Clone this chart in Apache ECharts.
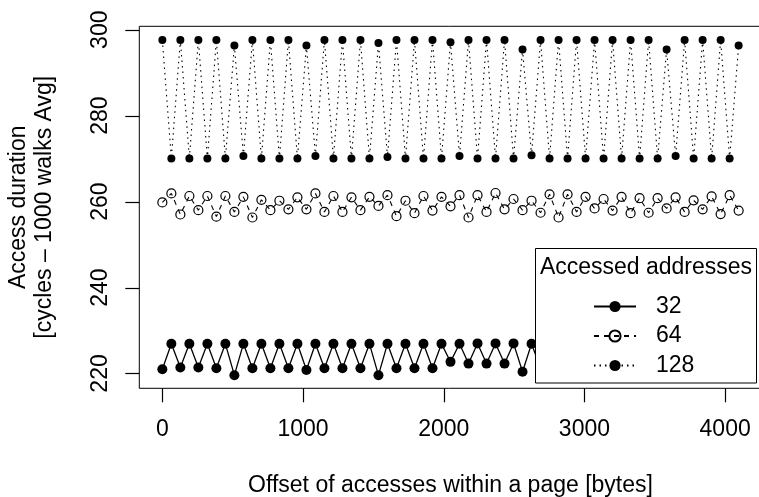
<!DOCTYPE html>
<html>
<head>
<meta charset="utf-8">
<script src="https://cdn.jsdelivr.net/npm/echarts@6/dist/echarts.min.js"></script>
<style>html,body{margin:0;padding:0;background:#fff}#show{width:759px;height:497px}</style>
</head>
<body>
<div id="show"></div>
<script>
// offsets within a page, in bytes
var offsets = [0, 64, 128, 192, 256, 320, 384, 448, 512, 576, 640, 704, 768, 832, 896, 960,
    1024, 1088, 1152, 1216, 1280, 1344, 1408, 1472, 1536, 1600, 1664, 1728, 1792, 1856, 1920, 1984,
    2048, 2112, 2176, 2240, 2304, 2368, 2432, 2496, 2560, 2624, 2688, 2752, 2816, 2880, 2944, 3008,
    3072, 3136, 3200, 3264, 3328, 3392, 3456, 3520, 3584, 3648, 3712, 3776, 3840, 3904, 3968, 4032, 4096];

var dur32 = [221.0, 226.9, 221.4, 226.9, 221.4, 226.9, 221.2, 226.9, 219.6, 226.9, 221.2, 226.9, 221.2, 226.9, 221.2, 226.9,
    220.8, 226.9, 221.2, 226.9, 221.2, 226.9, 221.2, 226.9, 219.6, 226.9, 221.2, 226.9, 221.2, 226.9, 221.2, 226.9,
    222.7, 226.9, 222.3, 227.0, 222.3, 227.0, 222.3, 227.0, 220.4, 226.9, 221.2, 226.9, 221.2, 226.9, 221.2, 226.9,
    220.4, 226.9, 221.2, 226.9, 221.2, 226.9, 221.2, 226.9, 219.8, 226.9, 221.2, 226.9, 221.2, 226.9, 221.2, 226.9, 221.2];

var dur64 = [259.8, 261.9, 257.0, 261.3, 258.0, 261.3, 256.5, 261.3, 257.6, 261.1, 256.3, 260.4, 258.0, 260.2, 258.2, 261.0,
    258.2, 261.9, 257.6, 261.3, 257.6, 261.0, 258.0, 261.1, 259.0, 261.5, 256.6, 260.2, 257.3, 261.3, 257.9, 261.1,
    258.9, 261.5, 256.3, 261.5, 257.6, 262.0, 258.2, 260.6, 258.0, 260.2, 257.4, 261.7, 256.3, 261.7, 257.6, 261.1,
    258.4, 260.6, 257.9, 261.1, 257.3, 260.8, 257.4, 260.8, 258.4, 261.0, 257.6, 260.3, 258.2, 261.2, 257.1, 261.5, 257.9];

var dur128 = [297.6, 270.0, 297.6, 270.0, 297.6, 270.0, 297.6, 270.0, 296.3, 270.6, 297.6, 270.0, 297.6, 270.0, 297.6, 270.0,
    296.3, 270.6, 297.6, 270.0, 297.6, 270.0, 297.6, 270.0, 296.9, 270.4, 297.6, 270.0, 297.6, 270.0, 297.6, 270.0,
    297.1, 270.6, 297.6, 270.0, 297.6, 270.0, 297.6, 270.0, 295.4, 270.8, 297.6, 270.0, 297.6, 270.0, 297.6, 270.0,
    297.6, 270.0, 297.6, 270.0, 297.6, 270.0, 297.6, 270.0, 295.4, 270.6, 297.6, 270.0, 297.6, 270.0, 297.6, 270.0, 296.3];

var seriesNames = ['32', '64', '128'];
var xTicks = [0, 1000, 2000, 3000, 4000];
var yTicks = [220, 240, 260, 280, 300];
var legendTitle = 'Accessed addresses';

// axis ranges (R style 4% padding around the data)
var xMin = -163.84, xMax = 4259.84;
var yMin = 216.55, yMax = 300.79;
var tickLen = 14;

function pairs(vals) {
    return offsets.map(function (x, i) { return [x, vals[i]]; });
}

var font = '"Liberation Sans", Arial, Helvetica, sans-serif';
var myChart = echarts.init(document.getElementById('show'));

var legendBox = [
    {
        type: 'rect', z: 15,
        shape: { x: 535.5, y: 248.5, width: 221, height: 134.5 },
        style: { fill: '#fff', stroke: '#000', lineWidth: 1 }
    },
    {
        type: 'text', z: 16, x: 646, y: 268,
        style: { text: legendTitle, font: '23px ' + font, fill: '#000', align: 'center', verticalAlign: 'middle' }
    }
];

myChart.setOption({
    animation: false,
    textStyle: { fontFamily: font, color: '#000' },
    grid: {
        left: 139.3, right: -2.7, top: 26.3, bottom: 108.7,
        containLabel: false, outerBoundsMode: 'none',
        show: true, borderColor: '#000', borderWidth: 1
    },
    xAxis: {
        type: 'value', min: xMin, max: xMax, position: 'bottom',
        splitLine: { show: false },
        axisLine: { show: false, onZero: false },
        axisTick: { show: false },
        axisLabel: {
            customValues: xTicks, margin: 30, fontSize: 23, color: '#000', fontFamily: font,
            formatter: function (v) { return String(v); }
        },
        name: 'Offset of accesses within a page [bytes]',
        nameLocation: 'middle', nameGap: 86,
        nameTextStyle: { fontSize: 23, color: '#000', fontFamily: font }
    },
    yAxis: {
        type: 'value', min: yMin, max: yMax, position: 'left',
        splitLine: { show: false },
        axisLine: { show: false, onZero: false },
        axisTick: { show: false },
        axisLabel: {
            customValues: yTicks, rotate: 90, margin: 27, fontSize: 23, color: '#000', fontFamily: font,
            formatter: function (v) { return String(v); }
        },
        name: 'Access duration\n[cycles \u2013 1000 walks Avg]',
        nameLocation: 'middle', nameGap: 82,
        nameTextStyle: { fontSize: 23, lineHeight: 26, color: '#000', fontFamily: font }
    },
    legend: {
        orient: 'vertical', left: 593, top: 295, padding: 0,
        itemWidth: 42, itemHeight: 14, itemGap: 6.5,
        selectedMode: false, z: 20,
        textStyle: { fontSize: 23, lineHeight: 20, color: '#000', fontFamily: font, padding: [0, 0, 0, 15] },
        data: seriesNames
    },
    graphic: legendBox,
    series: [
        {
            name: seriesNames[0], type: 'line', data: pairs(dur32),
            symbol: 'circle', symbolSize: 10,
            itemStyle: { color: '#000' },
            lineStyle: { color: '#000', width: 1.3 }
        },
        {
            name: seriesNames[1], type: 'line', data: pairs(dur64),
            symbol: 'circle', symbolSize: 9,
            itemStyle: { color: 'rgba(0,0,0,0)', borderColor: '#000', borderWidth: 1.2 },
            lineStyle: { color: '#000', width: 1.1, type: [5, 5] }
        },
        {
            name: seriesNames[2], type: 'line', data: pairs(dur128),
            symbol: 'circle', symbolSize: 8,
            itemStyle: { color: '#000' },
            lineStyle: { color: '#000', width: 1.1, type: [1.5, 4] }
        }
    ]
});

// tick marks, placed with the chart's own scales
var bottomY = myChart.convertToPixel({ yAxisIndex: 0 }, yMin);
var leftX = myChart.convertToPixel({ xAxisIndex: 0 }, xMin);
var tickMarks = [];
xTicks.forEach(function (v) {
    var px = Math.round(myChart.convertToPixel({ xAxisIndex: 0 }, v)) + 0.5;
    tickMarks.push({
        type: 'line', z: 50,
        shape: { x1: px, y1: bottomY, x2: px, y2: bottomY + tickLen },
        style: { stroke: '#000', lineWidth: 1.2 }
    });
});
yTicks.forEach(function (v) {
    var py = Math.round(myChart.convertToPixel({ yAxisIndex: 0 }, v)) + 0.5;
    tickMarks.push({
        type: 'line', z: 50,
        shape: { x1: leftX - tickLen, y1: py, x2: leftX, y2: py },
        style: { stroke: '#000', lineWidth: 1.2 }
    });
});
myChart.setOption({ graphic: legendBox.concat(tickMarks) });
</script>
</body>
</html>
